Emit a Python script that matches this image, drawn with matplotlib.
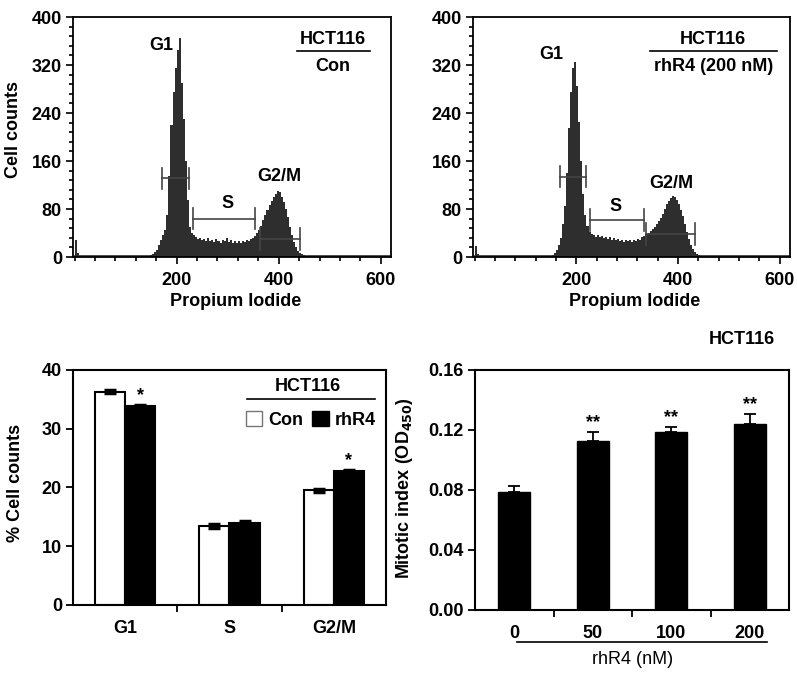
import matplotlib
matplotlib.use('Agg')
import matplotlib.pyplot as plt
import numpy as np
from matplotlib.ticker import MultipleLocator, FixedLocator
from matplotlib.patches import Patch

plt.rcParams['font.family'] = ['Liberation Sans', 'DejaVu Sans']
plt.rcParams['font.weight'] = 'bold'
plt.rcParams['axes.labelweight'] = 'bold'
plt.rcParams['font.size'] = 13

# --- flow cytometry histograms (4-channel bins) ---
bin_width = 4
hist_start_con = 148
counts_con = [3, 5, 8, 12, 20, 28, 36, 45, 70, 135, 220, 275, 315, 345, 365, 290,
              230, 160, 95, 50, 40, 36, 34, 30, 32, 28, 30, 27, 31, 26, 29, 25,
              30, 27, 24, 29, 26, 31, 25, 28, 24, 27, 23, 26, 24, 27, 25, 28,
              26, 30, 32, 35, 40, 45, 52, 62, 70, 78, 86, 93, 100, 105, 110, 108,
              100, 92, 80, 66, 50, 36, 25, 16, 10, 7, 5, 3, 2, 2, 1]
hist_start_rh = 148
counts_rh = [2, 4, 7, 12, 20, 32, 55, 85, 140, 215, 275, 315, 325, 285, 225, 160,
             105, 70, 52, 42, 38, 36, 34, 37, 33, 35, 31, 34, 30, 33, 29, 31,
             28, 30, 26, 29, 25, 28, 26, 29, 25, 28, 27, 30, 29, 33, 35, 38,
             40, 43, 46, 50, 55, 60, 65, 72, 80, 88, 94, 99, 102, 100, 95, 88,
             78, 68, 55, 42, 30, 20, 13, 8, 5, 3, 2, 1]
debris_con = [28, 6, 2]
debris_rh = [18, 5, 2]

# gates: (x_start, x_end, y)
gates_con = [(172, 225, 131), (233, 353, 64), (363, 441, 30)]
gates_rh = [(167, 219, 134), (227, 333, 62), (337, 433, 38)]
phase_labels = ['G1', 'S', 'G2/M']
label_pos_con = [(170, 353), (299, 90), (402, 134)]
label_pos_rh = [(150, 337), (277, 84), (387, 123)]

# --- cell cycle distribution ---
phases = ['G1', 'S', 'G2/M']
pct_con = [36.3, 13.4, 19.5]
pct_con_err = [0.3, 0.3, 0.25]
pct_rh = [33.9, 14.0, 22.8]
pct_rh_err = [0.15, 0.3, 0.15]
pct_rh_star = ['*', '', '*']

# --- mitotic index ---
doses = ['0', '50', '100', '200']
mitotic = [0.0789, 0.1129, 0.1185, 0.1242]
mitotic_err = [0.004, 0.006, 0.0037, 0.0067]
mitotic_star = ['', '**', '**', '**']

fig = plt.figure(figsize=(7.97, 6.78), dpi=100)
ax1 = fig.add_axes([0.0916, 0.6209, 0.399, 0.354])
ax2 = fig.add_axes([0.5935, 0.6209, 0.3977, 0.354])
ax3 = fig.add_axes([0.0916, 0.1077, 0.3927, 0.3466])
ax4 = fig.add_axes([0.596, 0.1003, 0.394, 0.354])

hist_color = '#2e2e2e'


def draw_hist(ax, start, counts, debris, gates, label_pos, title2, title_x, line_x):
    edges = start + bin_width * np.arange(len(counts) + 1)
    ax.fill_between(edges, np.append(counts, 0), step='post', color=hist_color, lw=0)
    d_edges = bin_width * np.arange(len(debris) + 1)
    ax.fill_between(d_edges, np.append(debris, 0), step='post', color=hist_color, lw=0)
    ax.plot([0, 620], [1.5, 1.5], color=hist_color, lw=1.2)
    for (x0, x1, y), lab, (lx, ly) in zip(gates, phase_labels, label_pos):
        ax.plot([x0, x1], [y, y], color='#444444', lw=1.2)
        ax.plot([x0, x0], [y - 18, y + 18], color='#444444', lw=1.2)
        ax.plot([x1, x1], [y - 18, y + 18], color='#444444', lw=1.2)
        ax.text(lx, ly, lab, ha='center', va='center')
    ax.set_xlim(-3, 620)
    ax.set_ylim(0, 400)
    ax.xaxis.set_major_locator(FixedLocator([200, 400, 600]))
    ax.xaxis.set_minor_locator(MultipleLocator(40))
    ax.yaxis.set_major_locator(MultipleLocator(80))
    ax.yaxis.set_minor_locator(MultipleLocator(16))
    ax.tick_params(which='both', direction='out', width=1.2)
    ax.tick_params(which='major', length=5)
    ax.tick_params(axis='x', which='major', pad=6)
    ax.tick_params(axis='y', which='major', pad=3)
    ax.tick_params(which='minor', length=3)
    ax.set_xlabel('Propium Iodide')
    ax.xaxis.set_label_coords(0.51, -0.15)
    ax.text(title_x, 362, 'HCT116', ha='center', va='center')
    ax.plot(line_x, [343, 343], color='black', lw=1.2)
    ax.text(title_x, 317, title2, ha='center', va='center')
    for s in ax.spines.values():
        s.set_linewidth(1.3)


draw_hist(ax1, hist_start_con, counts_con, debris_con, gates_con, label_pos_con,
          'Con', 506, [435, 578])
draw_hist(ax2, hist_start_rh, counts_rh, debris_rh, gates_rh, label_pos_rh,
          'rhR4 (200 nM)', 469, [344, 595])
ax1.set_ylabel('Cell counts')
ax1.yaxis.set_label_coords(-0.16, 0.53)

# grouped bars
x = np.arange(len(phases))
w = 0.29
ax3.bar(x - w / 2, pct_con, w, color='white', edgecolor='black', linewidth=1.5,
        yerr=pct_con_err, error_kw=dict(ecolor='black', elinewidth=1.5, capsize=4, capthick=2.5))
ax3.bar(x + w / 2, pct_rh, w, color='black', edgecolor='black', linewidth=1.5,
        yerr=pct_rh_err, error_kw=dict(ecolor='black', elinewidth=1.5, capsize=4, capthick=2.5))
for xi, v, e, s in zip(x, pct_rh, pct_rh_err, pct_rh_star):
    if s:
        ax3.text(xi + w / 2, v + e + 0.1, s, ha='center', va='bottom')
ax3.set_xlim(-0.5, 2.5)
ax3.set_ylim(0, 40)
ax3.set_xticks(x)
ax3.set_xticklabels(phases)
ax3.xaxis.set_minor_locator(FixedLocator([0.5, 1.5]))
ax3.tick_params(axis='x', which='major', length=0, pad=11)
ax3.tick_params(axis='x', which='minor', length=5, width=1.3, direction='out')
ax3.yaxis.set_major_locator(MultipleLocator(10))
ax3.tick_params(axis='y', length=5, width=1.3, direction='out', pad=3)
ax3.set_ylabel('% Cell counts')
ax3.yaxis.set_label_coords(-0.155, 0.52)
for s in ax3.spines.values():
    s.set_linewidth(1.5)
ax3.text(0.751, 0.928, 'HCT116', transform=ax3.transAxes, ha='center', va='center')
ax3.plot([0.555, 0.965], [0.875, 0.875], transform=ax3.transAxes, color='black', lw=1.2)
handles = [Patch(facecolor='white', edgecolor='#777777', label='Con'),
           Patch(facecolor='black', edgecolor='black', label='rhR4')]
ax3.legend(handles=handles, ncol=2, frameon=False, loc='center', bbox_to_anchor=(0.76, 0.787),
           handlelength=0.9, handleheight=0.9, handletextpad=0.35, columnspacing=0.5,
           borderpad=0)

# mitotic index bars
xm = np.arange(len(doses))
ax4.bar(xm, mitotic, 0.41, color='black', edgecolor='black',
        yerr=[np.zeros(len(mitotic_err)), mitotic_err],
        error_kw=dict(ecolor='black', elinewidth=1.3, capsize=4, capthick=1.3))
for xi, v, e, s in zip(xm, mitotic, mitotic_err, mitotic_star):
    if s:
        ax4.text(xi, v + e + 0.0002, s, ha='center', va='bottom')
ax4.set_xlim(-0.5, 3.5)
ax4.set_ylim(0, 0.16)
ax4.set_xticks(xm)
ax4.set_xticklabels(doses)
ax4.xaxis.set_minor_locator(FixedLocator([0.5, 1.5, 2.5]))
ax4.tick_params(axis='x', which='major', length=0, pad=11)
ax4.tick_params(axis='x', which='minor', length=5, width=1.3, direction='out')
ax4.yaxis.set_major_locator(MultipleLocator(0.04))
ax4.yaxis.set_major_formatter(plt.FormatStrFormatter('%.2f'))
ax4.tick_params(axis='y', length=5, width=1.3, direction='out', pad=3)
ax4.set_ylabel('Mitotic index (OD$_{\\mathbf{450}}$)')
ax4.yaxis.set_label_coords(-0.19, 0.51)
for s in ax4.spines.values():
    s.set_linewidth(1.5)
ax4.plot([0.134, 0.930], [-0.133, -0.133], transform=ax4.transAxes, color='black',
         lw=1.2, clip_on=False)
ax4.text(0.503, -0.208, 'rhR4 (nM)', transform=ax4.transAxes, ha='center', va='center',
         fontweight='normal')
ax4.text(0.849, 1.125, 'HCT116', transform=ax4.transAxes, ha='center', va='center')

fig.savefig('out.png', dpi=100)
